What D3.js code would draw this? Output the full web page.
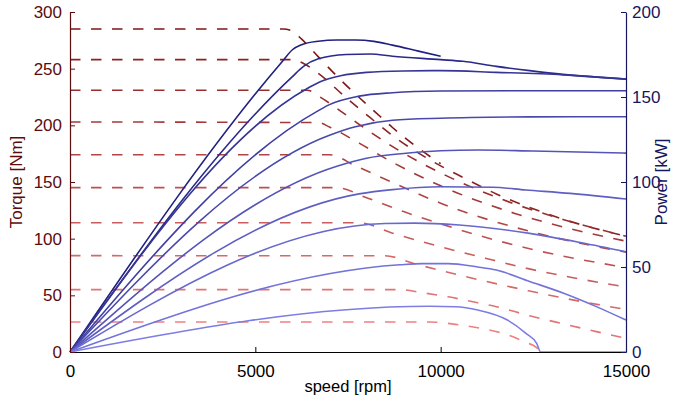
<!DOCTYPE html>
<html>
<head>
<meta charset="utf-8">
<script src="https://cdn.jsdelivr.net/npm/d3@7"></script>
<style>
  body { margin: 0; background: #fff; }
  svg { font-family: "Liberation Sans", Arial, sans-serif; }
</style>
</head>
<body>
<div id="chart"></div>
<script>
// speed [rpm] vs torque [Nm], one curve per torque level
var torqueCurves = [
    [[0, 285], [5750, 285], [6000, 283], [6250, 276], [6700, 260.4], [7200, 243.4], [7700, 227.6], [8200, 212.8], [8700, 198.1], [9400, 179.8], [10000, 166.2]],
    [[0, 258], [6000, 258], [6300, 254.6], [6700, 245.9], [7450, 224.3], [8100, 206.7], [8700, 191], [10000, 164.2], [10600, 154.1], [11500, 139.5], [12400, 127.5], [13300, 117.2], [15000, 102.2]],
    [[0, 231], [6400, 231], [6750, 224.9], [7300, 212.6], [8000, 196.3], [9000, 175.4], [10000, 158], [11500, 136.6], [13300, 117], [15000, 102.2]],
    [[0, 203], [6700, 202.4], [7000, 198.5], [7800, 184.3], [8700, 167.4], [10000, 146.6], [12000, 122.3], [13500, 108.7], [15000, 97.8]],
    [[0, 174], [7000, 174], [7700, 164.3], [8700, 149.6], [10000, 131.3], [12400, 106.5], [13700, 96.5], [15000, 88.1]],
    [[0, 145], [7200, 145], [8000, 136.1], [9000, 123.9], [10000, 113.1], [11000, 103.1], [12500, 90.3], [15000, 74.5]],
    [[0, 114], [7800, 114], [8700, 104.8], [10000, 92.8], [11400, 81.2], [12300, 74], [13500, 66], [15000, 57.3]],
    [[0, 85], [8500, 84.9], [9300, 77.8], [10500, 67.9], [12400, 53.8], [13800, 44.5], [15000, 37.6]],
    [[0, 55], [8900, 55], [9500, 52.3], [10200, 48.7], [11000, 43.4], [11500, 40], [12400, 32], [13300, 24.9], [14200, 18], [15000, 12]],
    [[0, 26.5], [9700, 26.5], [10400, 24.4], [11000, 21.4], [11800, 15.2], [12300, 8.5], [12590, 3.9], [12700, 0]]
];

// speed [rpm] vs power [kW]
var powerCurves = [
    [[0, 0], [5750, 171.5], [6000, 177.8], [6250, 180.8], [6700, 182.8], [7200, 183.5], [7700, 183.5], [8200, 182.7], [8700, 180.5], [9400, 177], [10000, 174]],
    [[0, 0], [6000, 162], [6300, 168], [6700, 172.5], [7450, 175], [8100, 175.3], [8700, 174], [10000, 172], [10600, 171], [11500, 168], [12400, 165.5], [13300, 163.3], [15000, 160.5]],
    [[0, 0], [6400, 155], [6750, 159], [7300, 162.5], [8000, 164.5], [9000, 165.3], [10000, 165.5], [11500, 164.5], [13300, 163], [15000, 160.5]],
    [[0, 0], [6700, 142], [7000, 145.5], [7800, 150.5], [8700, 152.5], [10000, 153.5], [12000, 153.7], [13500, 153.7], [15000, 153.7]],
    [[0, 0], [7000, 127.5], [7700, 132.5], [8700, 136.3], [10000, 137.5], [12400, 138.3], [13700, 138.4], [15000, 138.4]],
    [[0, 0], [7200, 109.3], [8000, 114], [9000, 116.8], [10000, 118.4], [11000, 118.8], [12500, 118.2], [15000, 117]],
    [[0, 0], [7800, 93], [8700, 95.5], [10000, 97.2], [11400, 96.9], [12300, 95.3], [13500, 93.3], [15000, 90]],
    [[0, 0], [8500, 75.6], [9300, 75.8], [10500, 74.7], [12400, 69.8], [13800, 64.3], [15000, 59]],
    [[0, 0], [8900, 51.3], [9500, 52], [10200, 52], [11000, 50], [11500, 48.2], [12400, 41.5], [13300, 34.7], [14200, 26.7], [15000, 18.8]],
    [[0, 0], [9700, 26.9], [10400, 26.6], [11000, 24.7], [11800, 18.8], [12300, 11], [12590, 5.1], [12700, 0], [15000, 0]]
];

var speedTicks = [0, 5000, 10000, 15000];
var torqueTicks = [0, 50, 100, 150, 200, 250, 300];
var powerTicks = [0, 50, 100, 150, 200];

var width = 684, height = 404;
var margin = { top: 12, right: 58, bottom: 52, left: 70 };

var svg = d3.select("#chart").append("svg")
    .attr("width", width)
    .attr("height", height);

var x = d3.scaleLinear().domain([0, 15000]).range([margin.left, width - margin.right]);
var yT = d3.scaleLinear().domain([0, 300]).range([height - margin.bottom, margin.top]);
var yP = d3.scaleLinear().domain([0, 200]).range([height - margin.bottom, margin.top]);

var redCol = d3.interpolateRgb("rgb(128,22,22)", "rgb(238,128,128)");
var blueCol = d3.interpolateRgb("rgb(32,32,128)", "rgb(125,125,228)");

var lineT = d3.line()
    .x(function (d) { return x(d[0]); })
    .y(function (d) { return yT(d[1]); })
    .curve(d3.curveMonotoneX);

var lineP = d3.line()
    .x(function (d) { return x(d[0]); })
    .y(function (d) { return yP(d[1]); })
    .curve(d3.curveMonotoneX);

/* torque curves (dashed) */
svg.append("g")
    .selectAll("path")
    .data(torqueCurves)
    .enter().append("path")
    .attr("d", lineT)
    .attr("fill", "none")
    .attr("stroke", function (d, i) { return redCol(i / 9); })
    .attr("stroke-width", 1.6)
    .attr("stroke-dasharray", "10.5,10.5");

/* power curves (solid) */
svg.append("g")
    .selectAll("path")
    .data(powerCurves)
    .enter().append("path")
    .attr("d", lineP)
    .attr("fill", "none")
    .attr("stroke", function (d, i) { return blueCol(i / 9); })
    .attr("stroke-width", 1.6);

/* axes */
var fmt = d3.format("d");

var xAxis = svg.append("g")
    .attr("transform", "translate(0," + yT(0) + ")")
    .call(d3.axisBottom(x).tickValues(speedTicks).tickFormat(fmt).tickSizeInner(-5).tickSizeOuter(0).tickPadding(13));

var leftAxis = svg.append("g")
    .attr("transform", "translate(" + x(0) + ",0)")
    .call(d3.axisLeft(yT).tickValues(torqueTicks).tickFormat(fmt).tickSizeInner(-5).tickSizeOuter(0).tickPadding(8));

var rightAxis = svg.append("g")
    .attr("transform", "translate(" + x(15000) + ",0)")
    .call(d3.axisRight(yP).tickValues(powerTicks).tickFormat(fmt).tickSizeInner(-5).tickSizeOuter(0).tickPadding(6));

function styleAxis(g, col) {
    g.select(".domain").attr("stroke", col).attr("stroke-width", 1.2);
    g.selectAll(".tick line").attr("stroke", col);
    g.selectAll(".tick text").attr("fill", col).style("font-size", "17px");
}
styleAxis(xAxis, "#000");
styleAxis(leftAxis, "#5c0c0c");
styleAxis(rightAxis, "#16165e");

xAxis.selectAll(".tick text").attr("dy", "0.71em");

/* axis titles */
svg.append("text")
    .attr("x", (x(0) + x(15000)) / 2)
    .attr("y", 392)
    .attr("text-anchor", "middle")
    .style("font-size", "16.5px")
    .attr("fill", "#000")
    .text("speed [rpm]");

svg.append("text")
    .attr("transform", "translate(22," + yT(150) + ") rotate(-90)")
    .attr("text-anchor", "middle")
    .style("font-size", "17px")
    .attr("fill", "#5c0c0c")
    .text("Torque [Nm]");

svg.append("text")
    .attr("transform", "translate(667," + yT(150) + ") rotate(-90)")
    .attr("text-anchor", "middle")
    .style("font-size", "17px")
    .attr("fill", "#16165e")
    .text("Power [kW]");
</script>
</body>
</html>
